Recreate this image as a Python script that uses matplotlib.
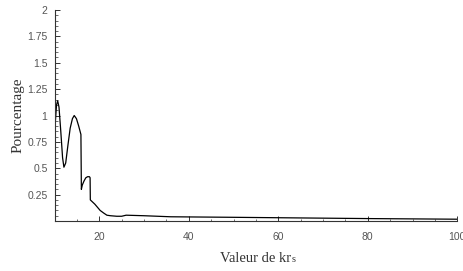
import numpy as np
import matplotlib.pyplot as plt
from matplotlib.ticker import MultipleLocator, FixedLocator

# values
kr = [10, 10.05, 10.2, 10.45, 10.7, 11.0, 11.4, 11.8, 12.1, 12.5, 13.0, 13.5,
      14.0, 14.4, 14.9, 15.4, 15.9, 16.0, 16.2, 16.6, 17.0, 17.4, 17.8, 17.95,
      18.0, 19.0, 20.2, 21.0, 21.7, 22.5, 23.9, 25, 26, 30, 36, 50, 60, 70,
      80, 90, 100]
pct = [0.22, 0.6, 0.95, 1.1, 1.14, 1.08, 0.85, 0.6, 0.51, 0.55, 0.72, 0.88,
       0.97, 1.0, 0.97, 0.9, 0.82, 0.30, 0.34, 0.38, 0.41, 0.42, 0.42, 0.41,
       0.20, 0.16, 0.10, 0.075, 0.055, 0.05, 0.045, 0.045, 0.055, 0.05, 0.04,
       0.035, 0.031, 0.027, 0.023, 0.02, 0.017]

yticks = [0.25, 0.5, 0.75, 1, 1.25, 1.5, 1.75, 2]
ytick_labels = ['0.25', '0.5', '0.75', '1', '1.25', '1.5', '1.75', '2']
xticks = [20, 40, 60, 80, 100]

fig = plt.figure(figsize=(4.64, 2.71), dpi=100)
ax = fig.add_axes([0.1175, 0.1845, 0.868, 0.7785])

ax.plot(kr, pct, color='black', lw=0.9)

ax.set_xlim(10, 100)
ax.set_ylim(0, 2)
for s in ['top', 'right']:
    ax.spines[s].set_visible(False)
for s in ['left', 'bottom']:
    ax.spines[s].set_linewidth(0.8)
    ax.spines[s].set_color('#333333')

ax.xaxis.set_major_locator(FixedLocator(xticks))
ax.xaxis.set_minor_locator(MultipleLocator(5))
ax.yaxis.set_major_locator(FixedLocator(yticks))
ax.set_yticklabels(ytick_labels)
ax.yaxis.set_minor_locator(MultipleLocator(0.05))
ax.tick_params(which='both', direction='in', colors='#333333',
               labelcolor='#555555', labelsize=7.5)
ax.tick_params(which='major', length=3.5, width=0.7)
ax.tick_params(axis='x', which='major', pad=8)
ax.tick_params(axis='y', which='major', pad=5)
ax.tick_params(which='minor', length=1.8, width=0.5)
for lab in ax.get_xticklabels() + ax.get_yticklabels():
    lab.set_family('Liberation Sans')

# x label: "kr" followed by a small "s" on the baseline
fig.text(0.627, 0.035, 'Valeur de kr', family='Liberation Serif',
         fontsize=10.5, color='#333333', ha='right', va='baseline')
fig.text(0.628, 0.035, 's', family='Liberation Serif',
         fontsize=7.5, color='#333333', ha='left', va='baseline')
ax.set_ylabel('Pourcentage', family='Liberation Serif', fontsize=11,
              color='#333333', labelpad=2)

fig.savefig('out.png', dpi=100)
